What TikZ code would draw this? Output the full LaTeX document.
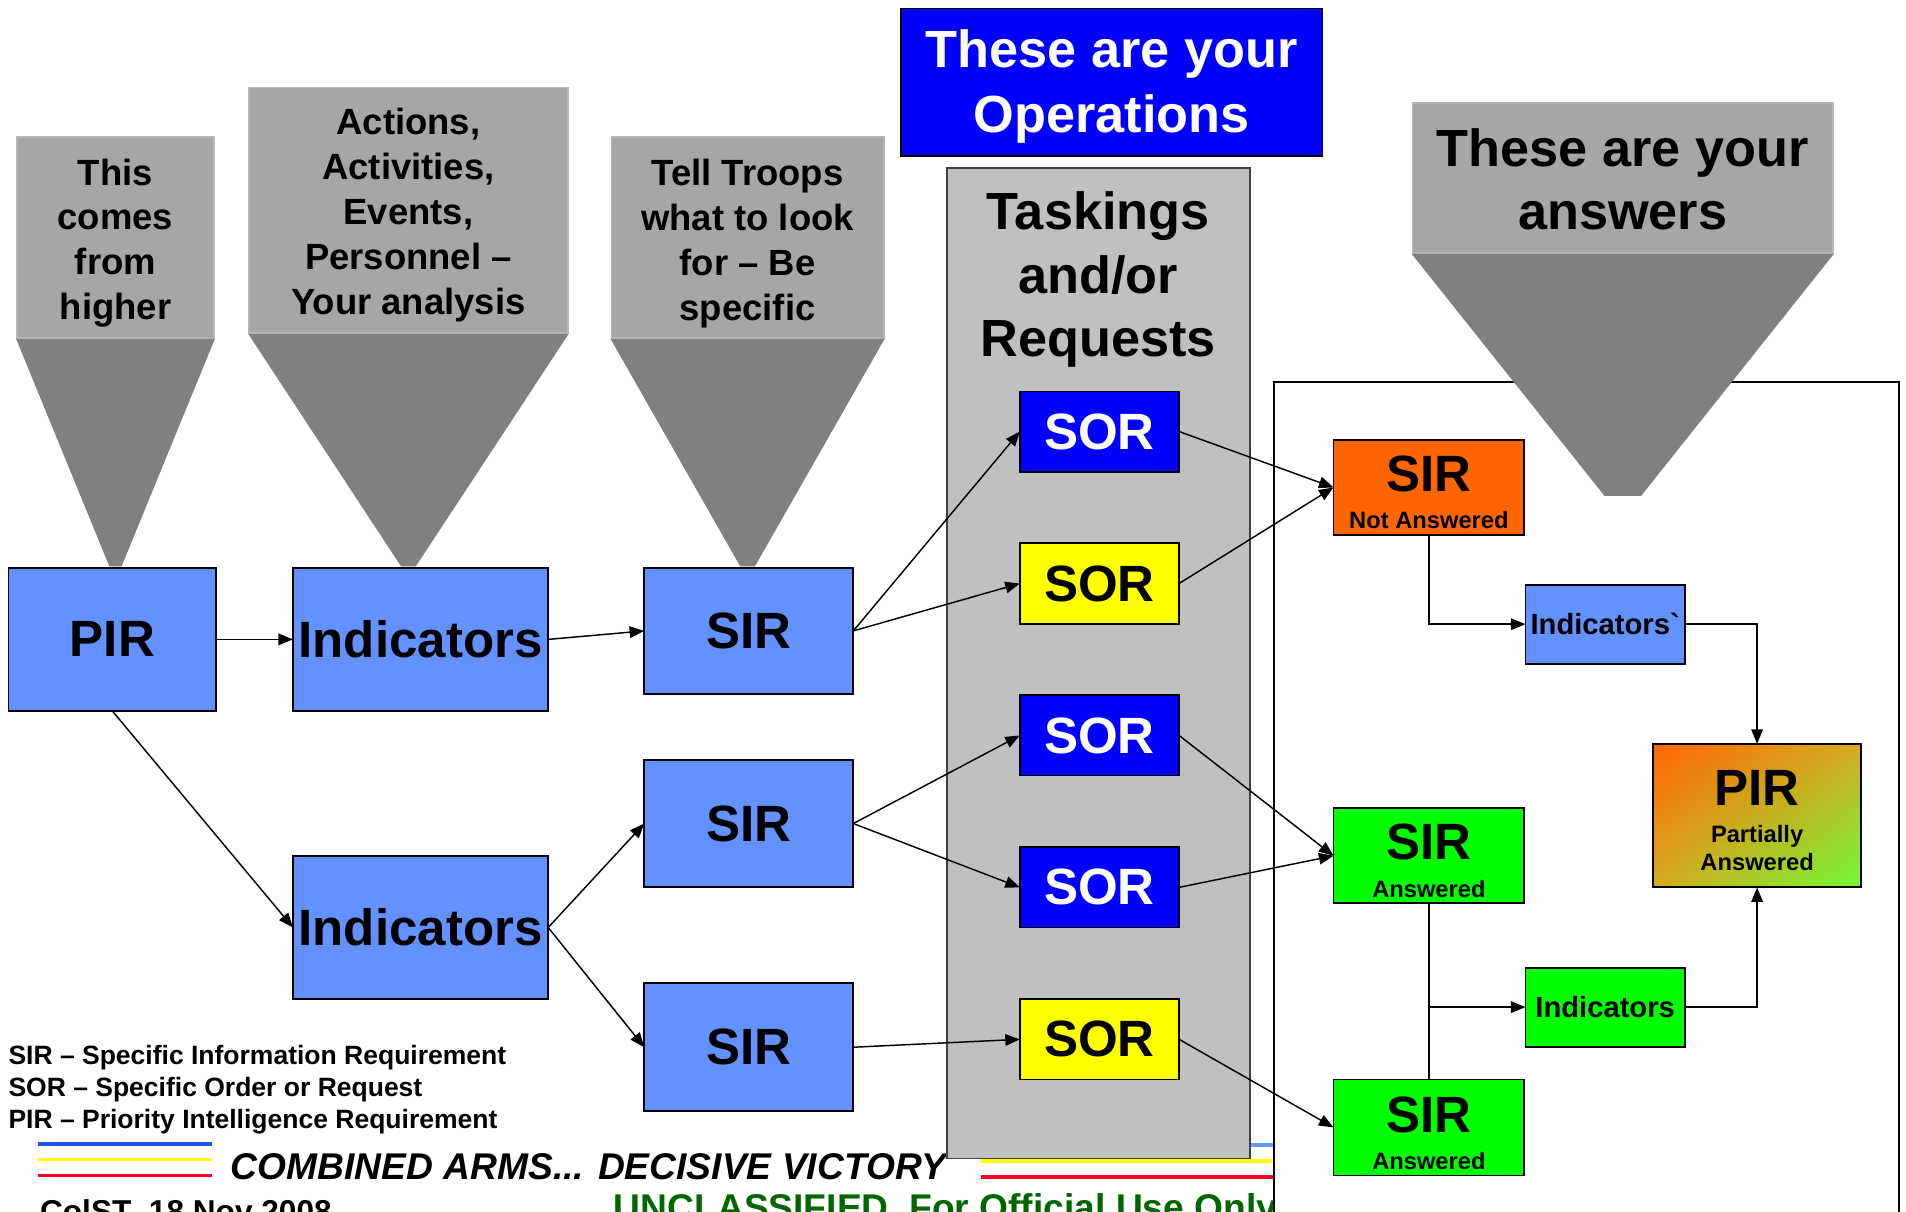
\documentclass[tikz,border=0pt]{standalone}
\usepackage{fontspec}
\setmainfont{Liberation Sans}
\usetikzlibrary{arrows.meta,calc,shadings}

\definecolor{funtop}{RGB}{166,166,166}
\definecolor{funedge}{RGB}{182,182,182}
\definecolor{funtri}{RGB}{128,128,128}
\definecolor{colgray}{RGB}{192,192,192}
\definecolor{boxblue}{RGB}{99,145,255}
\definecolor{opblue}{RGB}{0,0,255}
\definecolor{soryellow}{RGB}{255,255,0}
\definecolor{naorange}{RGB}{255,102,0}
\definecolor{ansgreen}{RGB}{0,255,0}
\definecolor{lgreen}{RGB}{110,250,50}
\definecolor{mixol}{RGB}{214,172,32}
\definecolor{footgreen}{RGB}{0,102,0}
\definecolor{lineblue}{RGB}{30,85,240}
\definecolor{lightlineblue}{RGB}{100,150,255}
\definecolor{linered}{RGB}{250,0,40}

\newcommand\fsz[2]{\fontsize{#1}{#2}\selectfont}

\begin{document}
\begin{tikzpicture}[x=1pt,y=-1pt,
  box/.style={draw=black, line width=1.5pt, inner sep=0pt, outer sep=0pt,
    font=\bfseries\fsz{42}{42}},
  funrect/.style={fill=funtop, draw=funedge, line width=1.5pt, inner sep=0pt,
    align=center, font=\bfseries\fsz{30}{37}},
  lbl/.style={inner sep=0pt, outer sep=0pt},
  conn/.style={line width=1.2pt, -{Triangle[length=12pt,width=9.5pt]}},
  plainline/.style={line width=1.2pt},
  footline/.style={line width=3pt}
]
\clip (0,0) rectangle (1568,997);
\fill[white] (0,0) rectangle (1568,997);

% ---- footer ----
\draw[footline, lineblue] (31,941) -- (174,941);
\draw[footline, soryellow] (31,954) -- (174,954);
\draw[footline, linered] (31,967) -- (174,967);
\draw[footline, lightlineblue] (807,942) -- (1048,942);
\draw[footline, soryellow] (807,955) -- (1048,955);
\draw[footline, linered] (807,968) -- (1048,968);
\node[lbl, anchor=base west, font=\bfseries\itshape\fsz{30.6}{30}] (motto) at (190,970) {COMBINED ARMS... DECISIVE VICTORY};
\node[lbl, anchor=base west, font=\bfseries\fsz{26}{26}] (date) at (33,1006) {ColST\ \ 18 Nov 2008};
\node[lbl, anchor=base west, text=footgreen, font=\bfseries\fsz{30.6}{30}] (classif) at (505,1004) {UNCLASSIFIED\ \ For Official Use Only};

% ---- legend ----
\node[lbl, anchor=base west, font=\bfseries\fsz{21.8}{22}] (legA) at (7,876) {SIR – Specific Information Requirement};
\node[lbl, anchor=base west, font=\bfseries\fsz{21.8}{22}] (legB) at (7,902) {SOR – Specific Order or Request};
\node[lbl, anchor=base west, font=\bfseries\fsz{21.8}{22}] (legC) at (7,928) {PIR – Priority Intelligence Requirement};

% ---- answers frame ----
\draw[fill=white, line width=1.5pt] (1048,1010) -- (1048,314) -- (1562,314) -- (1562,1010);

% ---- taskings column ----
\node[fill=colgray, draw=black!75, line width=1.5pt, inner sep=0pt,
  minimum width=249pt, minimum height=815pt] (taskcol) at (903.5,545.5) {};
\node[lbl, align=center, font=\bfseries\fsz{43}{52.5}] (tasktxt) at (903.5,230) {Taskings\\and/or\\Requests};

% ---- operations banner ----
\node[box, fill=opblue, minimum width=347pt, minimum height=121pt] (ops) at (914.5,67.5) {};
\node[lbl, text=white, align=center, font=\bfseries\fsz{43}{53}] (opstxt) at (914.5,71) {These are your\\Operations};

% ---- funnels ----
\node[funrect, minimum width=162pt, minimum height=165pt] (fun1) at (95,195.5) {};
\node[lbl, align=center, font=\bfseries\fsz{30}{37}] (fun1txt) at (95,200) {This\\comes\\from\\higher};
\fill[funtri] (fun1.south west) -- (fun1.south east) -- (100,466) -- (90,466) -- cycle;
\node[funrect, minimum width=262pt, minimum height=202pt] (fun2) at (336,173) {};
\node[lbl, align=center, font=\bfseries\fsz{30}{37}] (fun2txt) at (336,177) {Actions,\\Activities,\\Events,\\Personnel –\\Your analysis};
\fill[funtri] (fun2.south west) -- (fun2.south east) -- (342,466) -- (330,466) -- cycle;
\node[funrect, minimum width=224pt, minimum height=165pt] (fun3) at (615,195.5) {};
\node[lbl, align=center, font=\bfseries\fsz{30}{37}] (fun3txt) at (615,200) {Tell Troops\\what to look\\for – Be\\specific};
\fill[funtri] (fun3.south west) -- (fun3.south east) -- (621,466) -- (609,466) -- cycle;
\node[funrect, minimum width=346pt, minimum height=123pt] (fun4) at (1335,146.5) {};
\node[lbl, align=center, font=\bfseries\fsz{43}{52}] (fun4txt) at (1335,147.5) {These are your\\answers};
\fill[funtri] (fun4.south west) -- (fun4.south east) -- (1350,408) -- (1320,408) -- cycle;

% ---- left chain ----
\node[box, fill=boxblue, minimum width=171pt, minimum height=118pt] (pir) at (92.5,526) {PIR};
\node[box, fill=boxblue, minimum width=210pt, minimum height=118pt] (ind1) at (346,526) {Indicators};
\node[box, fill=boxblue, minimum width=210pt, minimum height=118pt] (ind2) at (346,763) {Indicators};
\node[box, fill=boxblue, minimum width=172pt, minimum height=104pt] (sir1) at (616,519) {SIR};
\node[box, fill=boxblue, minimum width=172pt, minimum height=105pt] (sir2) at (616,677.5) {SIR};
\node[box, fill=boxblue, minimum width=172pt, minimum height=105pt] (sir3) at (616,861.5) {SIR};

% ---- orders and requests ----
\node[box, fill=opblue, text=white, minimum width=131pt, minimum height=66pt] (sor1) at (904.5,355) {SOR};
\node[box, fill=soryellow, minimum width=131pt, minimum height=66pt] (sor2) at (904.5,480) {SOR};
\node[box, fill=opblue, text=white, minimum width=131pt, minimum height=66pt] (sor3) at (904.5,605) {SOR};
\node[box, fill=opblue, text=white, minimum width=131pt, minimum height=66pt] (sor4) at (904.5,730) {SOR};
\node[box, fill=soryellow, minimum width=131pt, minimum height=66pt] (sor5) at (904.5,855) {SOR};

% ---- results ----
\node[box, fill=naorange, minimum width=157pt, minimum height=78pt] (sirna) at (1175.5,401) {};
\node[lbl, font=\bfseries\fsz{42}{42}] (sirnaT) at (1175.5,390) {SIR};
\node[lbl, font=\bfseries\fsz{19.5}{20}] (sirnaS) at (1175.5,428) {Not Answered};

\node[box, fill=boxblue, minimum width=131pt, minimum height=65pt, font=\bfseries\fsz{24}{24}] (indb) at (1320.5,513.5) {Indicators\textasciigrave};

\node[box, minimum width=171pt, minimum height=118pt,
  upper left=naorange, lower right=lgreen, upper right=mixol, lower left=mixol] (pirp) at (1445.5,671) {};
\node[lbl, font=\bfseries\fsz{42}{42}] (pirpT) at (1445.5,648) {PIR};
\node[lbl, align=center, font=\bfseries\fsz{19.5}{23}] (pirpS) at (1445.5,697.5) {Partially\\Answered};

\node[box, fill=ansgreen, minimum width=157pt, minimum height=78pt] (sira1) at (1175.5,704) {};
\node[lbl, font=\bfseries\fsz{42}{42}] (sira1T) at (1175.5,693) {SIR};
\node[lbl, font=\bfseries\fsz{19.5}{20}] (sira1S) at (1175.5,731) {Answered};

\node[box, fill=ansgreen, minimum width=131pt, minimum height=65pt, font=\bfseries\fsz{24}{24}] (indg) at (1320.5,828.5) {Indicators};

\node[box, fill=ansgreen, minimum width=157pt, minimum height=79pt] (sira2) at (1175.5,927.5) {};
\node[lbl, font=\bfseries\fsz{42}{42}] (sira2T) at (1175.5,917) {SIR};
\node[lbl, font=\bfseries\fsz{19.5}{20}] (sira2S) at (1175.5,955) {Answered};

% ---- connectors ----
\draw[conn] (pir.east) -- (ind1.west);
\draw[conn] (ind1.east) -- (sir1.west);
\draw[conn] (pir.south) -- (ind2.west);
\draw[conn] (ind2.east) -- (sir2.west);
\draw[conn] (ind2.east) -- (sir3.west);
\draw[conn] (sir1.east) -- (sor1.west);
\draw[conn] (sir1.east) -- (sor2.west);
\draw[conn] (sir2.east) -- (sor3.west);
\draw[conn] (sir2.east) -- (sor4.west);
\draw[conn] (sir3.east) -- (sor5.west);
\draw[conn] (sor1.east) -- (sirna.west);
\draw[conn] (sor2.east) -- (sirna.west);
\draw[conn] (sor3.east) -- (sira1.west);
\draw[conn] (sor4.east) -- (sira1.west);
\draw[conn] (sor5.east) -- (sira2.west);
\draw[conn] (sirna.south) |- (indb.west);
\draw[conn] (indb.east) -| (pirp.north);
\draw[plainline] (sira1.south) -- (sira2.north);
\coordinate (branch) at (sira1.south |- indg.west);
\draw[conn] (branch) -- (indg.west);
\draw[conn] (indg.east) -| (pirp.south);
\end{tikzpicture}
\end{document}
